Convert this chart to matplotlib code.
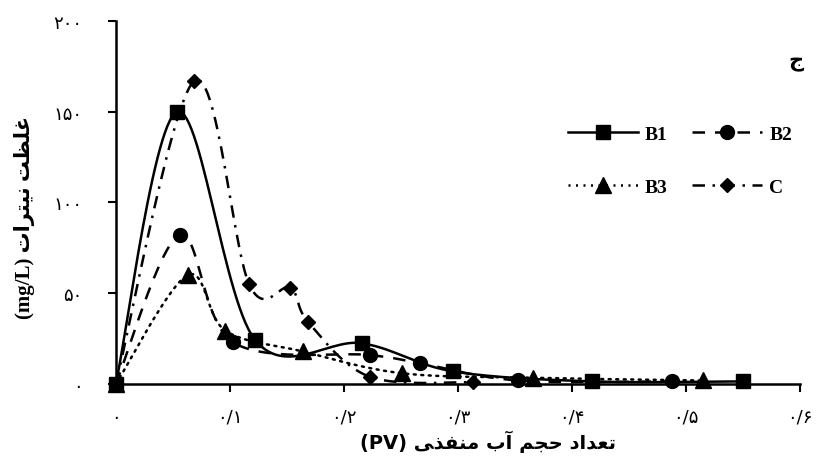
import numpy as np
import matplotlib
matplotlib.use('Agg')
import matplotlib.pyplot as plt

# pore volumes (PV) and nitrate concentration (mg/L) per treatment
b1_x = [0.0, 0.054, 0.122, 0.216, 0.296, 0.418, 0.550]
b1_y = [0.0, 150.0, 24.5, 22.5, 7.0, 1.5, 1.5]

b2_x = [0.0, 0.056, 0.103, 0.223, 0.267, 0.353, 0.488]
b2_y = [0.0, 82.0, 23.0, 16.0, 11.5, 2.0, 1.5]

b3_x = [0.0, 0.063, 0.096, 0.164, 0.251, 0.366, 0.515]
b3_y = [0.0, 60.0, 29.5, 18.0, 6.0, 3.5, 2.0]

c_x = [0.0, 0.069, 0.117, 0.153, 0.169, 0.223, 0.313]
c_y = [0.0, 167.0, 55.0, 53.0, 34.0, 4.0, 1.0]

x_ticks = [0, 0.1, 0.2, 0.3, 0.4, 0.5, 0.6]
x_tick_labels = ['۰', '۰/۱', '۰/۲', '۰/۳', '۰/۴', '۰/۵', '۰/۶']
y_ticks = [0, 50, 100, 150, 200]
y_tick_labels = ['۰', '۵۰', '۱۰۰', '۱۵۰', '۲۰۰']

# Persian labels, shaped and in visual order (matplotlib has no RTL shaping)
x_label = '(PV) ' + 'ﻰﺬﻔﻨﻣ ﺏﺁ ﻢﺠﺣ ﺩﺍﺪﻌﺗ'
y_label = '(mg/L) ' + 'ﺕﺍﺮﺘﻴﻧ ﺖﻈﻠﻏ'
panel = 'ﺝ'


def smooth(xs, ys, n=30):
    # Bezier smoothing like a spreadsheet "smoothed line"
    pts = np.column_stack([xs, ys])
    p = np.vstack([pts[0], pts, pts[-1]])
    t = np.linspace(0, 1, n)[:, None]
    out = []
    for i in range(1, len(p) - 2):
        p0, p1, p2, p3 = p[i - 1], p[i], p[i + 1], p[i + 2]
        c1 = p1 + (p2 - p0) / 6
        c2 = p2 - (p3 - p1) / 6
        seg = (1 - t)**3 * p1 + 3 * (1 - t)**2 * t * c1 + 3 * (1 - t) * t**2 * c2 + t**3 * p2
        out.append(seg)
    s = np.vstack(out)
    return s[:, 0], s[:, 1]


fig = plt.figure(figsize=(8.21, 4.64), dpi=100)
ax = fig.add_axes([0.141, 0.170, 0.833, 0.783])

series = [
    (b1_x, b1_y, 's', '-', 10, 'B1'),
    (b2_x, b2_y, 'o', (0, (5, 4)), 10, 'B2'),
    (b3_x, b3_y, '^', (0, (0.8, 2.2)), 11, 'B3'),
    (c_x, c_y, 'D', (0, (5, 3, 1, 3)), 7.5, 'C'),
]

handles = {}
for xs, ys, mk, ls, ms, name in series:
    sx, sy = smooth(xs, ys)
    ax.plot(sx, sy, color='black', lw=1.8, linestyle=ls, clip_on=False,
            dash_capstyle='round' if name == 'B3' else 'butt')
    ax.plot(xs, ys, linestyle='none', marker=mk, markersize=ms, color='black', clip_on=False)
    # proxy for legend
    handles[name], = ax.plot([], [], color='black', lw=1.8, linestyle=ls, marker=mk,
                             markersize=ms)

ax.set_xlim(0, 0.6)
ax.set_ylim(0, 200)
for s in ['top', 'right']:
    ax.spines[s].set_visible(False)
for s in ['left', 'bottom']:
    ax.spines[s].set_linewidth(1.8)

ax.set_xticks(x_ticks)
ax.set_xticklabels(x_tick_labels, family=['DejaVu Sans'], fontsize=13)
ax.set_yticks(y_ticks)
ax.set_yticklabels(y_tick_labels, family=['DejaVu Sans'], fontsize=13)
ax.tick_params(axis='both', direction='out', length=6, width=1.5)
ax.tick_params(axis='x', pad=11)
ax.tick_params(axis='y', pad=18)

ax.set_xlabel(x_label, family=['DejaVu Sans'], fontsize=14, fontweight='bold')
ax.xaxis.set_label_coords(0.545, -0.125)
ax.set_ylabel(y_label, family=['Liberation Serif', 'DejaVu Sans'], fontsize=15,
              fontweight='bold')
ax.yaxis.set_label_coords(-0.118, 0.46)

ax.text(1.005, 0.89, panel, transform=ax.transAxes, family=['DejaVu Sans'],
        fontsize=15, fontweight='bold', ha='right', va='center')

# order so that rows read B1 B2 / B3 C
order = ['B1', 'B3', 'B2', 'C']
leg = ax.legend([handles[k] for k in order], order, ncol=2, frameon=False, loc='upper left',
                bbox_to_anchor=(0.635, 0.76), handlelength=3.6, handletextpad=0.35,
                columnspacing=1.3, labelspacing=1.8,
                prop={'family': 'Liberation Serif', 'weight': 'bold', 'size': 14})

fig.savefig('out.png', dpi=100)
